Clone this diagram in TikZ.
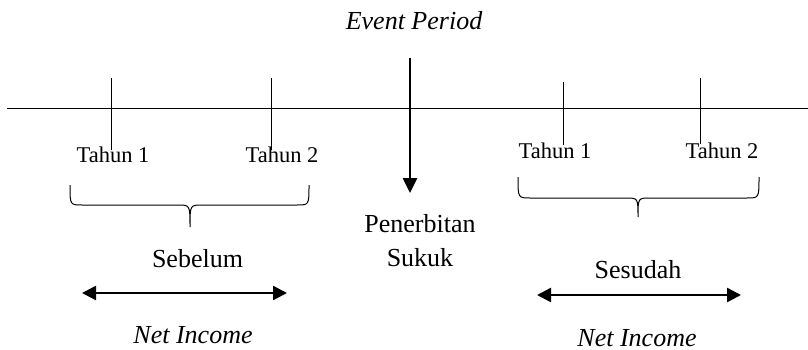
\documentclass[tikz,border=0pt]{standalone}
\usepackage{fontspec}
\setmainfont{Liberation Serif}
\usetikzlibrary{arrows.meta}
\begin{document}
\begin{tikzpicture}[x=1pt,y=-1pt,
  thin line/.style={line width=1pt},
  big arrow/.style={line width=2.6pt,-{Triangle[length=15pt,width=14pt]}},
  span arrow/.style={line width=2.4pt,{Triangle[length=14pt,width=14pt]}-{Triangle[length=14pt,width=14pt]}},
  small text/.style={font=\fontsize{22.5}{26}\selectfont,inner sep=0pt,anchor=base},
  large text/.style={font=\fontsize{26}{30}\selectfont,inner sep=0pt,anchor=base},
  large italic/.style={font=\fontsize{26}{30}\selectfont\itshape,inner sep=0pt,anchor=base},
  brace/.style={line width=1pt}]
\useasboundingbox (0,0) rectangle (808,350);
% timeline
\coordinate (tl0) at (7,109);
\coordinate (tl1) at (808,109);
\draw[thin line] (tl0) -- (tl1);
% ticks
\coordinate (a1) at (111.5,78); \coordinate (a2) at (111.5,150);
\coordinate (b1) at (271,78);   \coordinate (b2) at (271,150);
\coordinate (c1) at (563,82);   \coordinate (c2) at (563,145);
\coordinate (d1) at (700,78);   \coordinate (d2) at (700,144);
\draw[thin line] (a1) -- (a2);
\draw[thin line] (b1) -- (b2);
\draw[thin line] (c1) -- (c2);
\draw[thin line] (d1) -- (d2);
% labels
\node[small text] (t1) at (113,162) {Tahun 1};
\node[small text] (t2) at (282,162) {Tahun 2};
\node[small text] (t3) at (555,158) {Tahun 1};
\node[small text] (t4) at (722,158) {Tahun 2};
% event
\node[large italic] (ev) at (414,30) {Event Period};
\coordinate (evs) at (410,58);
\coordinate (eve) at (410,193);
\draw[big arrow] (evs) -- (eve);
\node[large text] (pen) at (420,232) {Penerbitan};
\node[large text] (suk) at (420,266) {Sukuk};
% left brace
\draw[brace] (70,185) .. controls (70,205) .. (82,205) -- (178,205) .. controls (190,205) .. (190,227)
  .. controls (190,205) .. (202,205) -- (297,205) .. controls (309,205) .. (309,185);
% right brace
\draw[brace] (518,177) .. controls (518,198) .. (530,198) -- (626,198) .. controls (638,198) .. (638,217)
  .. controls (638,198) .. (650,198) -- (747,198) .. controls (759,198) .. (759,177);
% sebelum / sesudah
\node[large text] (seb) at (197.5,267) {Sebelum};
\node[large text] (ses) at (638,278) {Sesudah};
\coordinate (la) at (82,293); \coordinate (lb) at (287,293);
\coordinate (ra) at (537,295); \coordinate (rb) at (741,295);
\draw[span arrow] (la) -- (lb);
\draw[span arrow] (ra) -- (rb);
\node[large italic] (ni1) at (193,343) {Net Income};
\node[large italic] (ni2) at (637,346) {Net Income};
\end{tikzpicture}
\end{document}
